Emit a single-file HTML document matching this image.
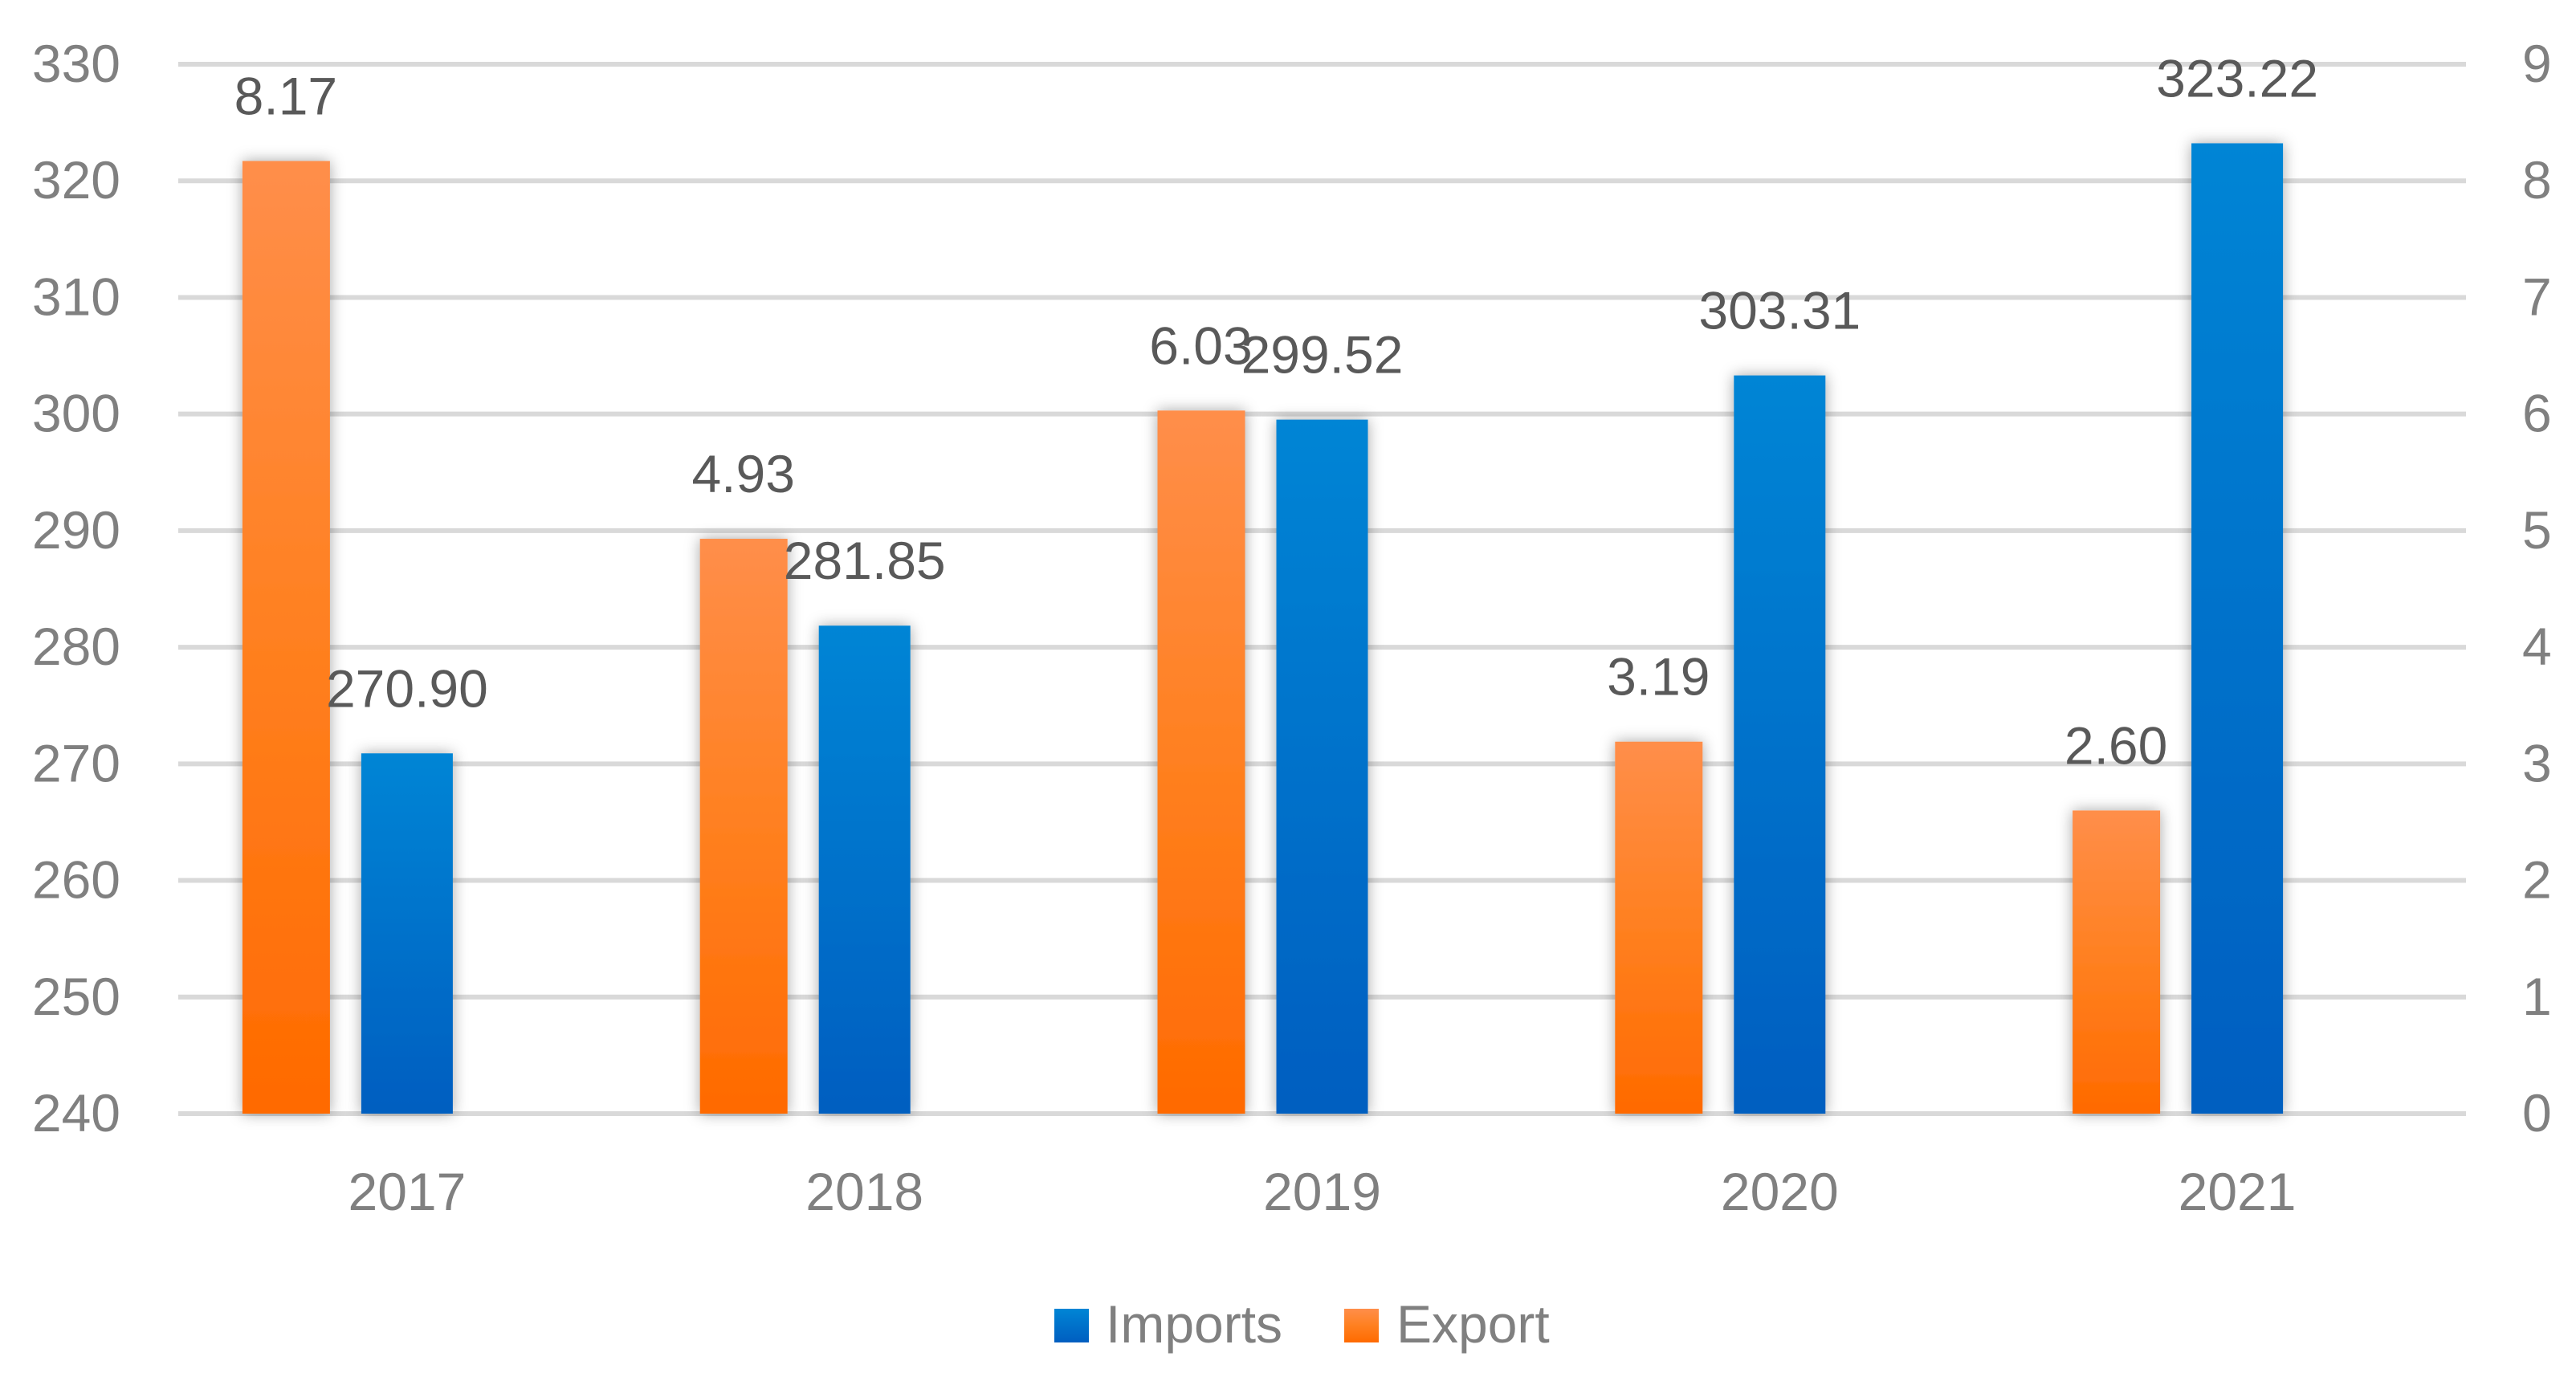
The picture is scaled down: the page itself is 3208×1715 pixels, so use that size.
<!DOCTYPE html>
<html><head><meta charset="utf-8">
<style>
html,body{margin:0;padding:0;background:#fff;}
svg{display:block;}
text{font-family:"Liberation Sans",sans-serif;}
</style></head>
<body>
<svg id="chart" width="3208" height="1715" viewBox="0 0 3208 1715" xmlns="http://www.w3.org/2000/svg">
<defs>
<linearGradient id="gOrange" x1="0" y1="0" x2="0" y2="1"><stop offset="0" stop-color="#FF8E4A"/><stop offset="0.5" stop-color="#FF8020"/><stop offset="1" stop-color="#FF6A00"/></linearGradient>
<linearGradient id="gBlue" x1="0" y1="0" x2="0" y2="1"><stop offset="0" stop-color="#0085D5"/><stop offset="1" stop-color="#005EC0"/></linearGradient>
<filter id="shadow" x="-40%" y="-10%" width="180%" height="120%"><feDropShadow dx="0" dy="0" stdDeviation="9" flood-color="#000" flood-opacity="0.35"/></filter>
</defs>
<g id="grid"></g>
<g id="bars"></g>
<g id="labels"></g>
<g>
<rect x="1313" y="1630" width="43" height="42" fill="url(#gBlue)"/>
<text x="1377" y="1672" font-size="66" fill="#808080">Imports</text>
<rect x="1674" y="1630" width="43" height="42" fill="url(#gOrange)"/>
<text x="1739" y="1672" font-size="66" fill="#808080">Export</text>
</g>
</svg>
<script>
const categories = ["2017","2018","2019","2020","2021"];
const imports = [270.90, 281.85, 299.52, 303.31, 323.22];
const exportsV = [8.17, 4.93, 6.03, 3.19, 2.60];
const leftTicks = [240,250,260,270,280,290,300,310,320,330];
const rightTicks = [0,1,2,3,4,5,6,7,8,9];

const NS = "http://www.w3.org/2000/svg";
const plotL = 222, plotR = 3071, yBottom = 1387, yTop = 80;
const yL = v => yBottom - (v - 240) / 90 * (yBottom - yTop);
const yR = v => yBottom - v / 9 * (yBottom - yTop);
const catW = (plotR - plotL) / categories.length;
const xC = i => plotL + catW * (i + 0.5);

function mk(tag, attrs, parent) {
  const e = document.createElementNS(NS, tag);
  for (const k in attrs) e.setAttribute(k, attrs[k]);
  parent.appendChild(e);
  return e;
}
const grid = document.getElementById('grid');
const bars = document.getElementById('bars');
const labels = document.getElementById('labels');

leftTicks.forEach((t, i) => {
  const y = yL(t);
  const l = mk('line', {x1: plotL, x2: plotR, y1: y, y2: y, stroke: '#D9D9D9', 'stroke-width': 6}, grid);
  
  
  const tx = mk('text', {x: 150, y: y + 22, 'font-size': 66, fill: '#808080', 'text-anchor': 'end'}, labels);
  tx.textContent = t;
  
  
});
rightTicks.forEach(t => {
  const y = yR(t);
  const tx = mk('text', {x: 3141, y: y + 22, 'font-size': 66, fill: '#808080'}, labels);
  tx.textContent = t;
  
  
});

categories.forEach((c, i) => {
  const cx = xC(i);
  // export bar (secondary axis)
  const ox = cx - 151, oy = yR(exportsV[i]);
  const ob = mk('rect', {x: ox - 54, y: oy, width: 109, height: yBottom - oy, fill: 'url(#gOrange)', filter: 'url(#shadow)'}, bars);
  
  
  // imports bar (primary axis)
  const iy = yL(imports[i]);
  const ib = mk('rect', {x: cx - 57, y: iy, width: 114, height: yBottom - iy, fill: 'url(#gBlue)', filter: 'url(#shadow)'}, bars);
  
  

  const ol = mk('text', {x: ox, y: oy - 58, 'font-size': 66, fill: '#595959', 'text-anchor': 'middle'}, labels);
  ol.textContent = exportsV[i].toFixed(2);
  
  
  const il = mk('text', {x: cx, y: iy - 58, 'font-size': 66, fill: '#595959', 'text-anchor': 'middle'}, labels);
  il.textContent = imports[i].toFixed(2);
  
  

  const cl = mk('text', {x: cx, y: 1507, 'font-size': 66, fill: '#808080', 'text-anchor': 'middle'}, labels);
  cl.textContent = c;
  
  
});
</script>
</body></html>
